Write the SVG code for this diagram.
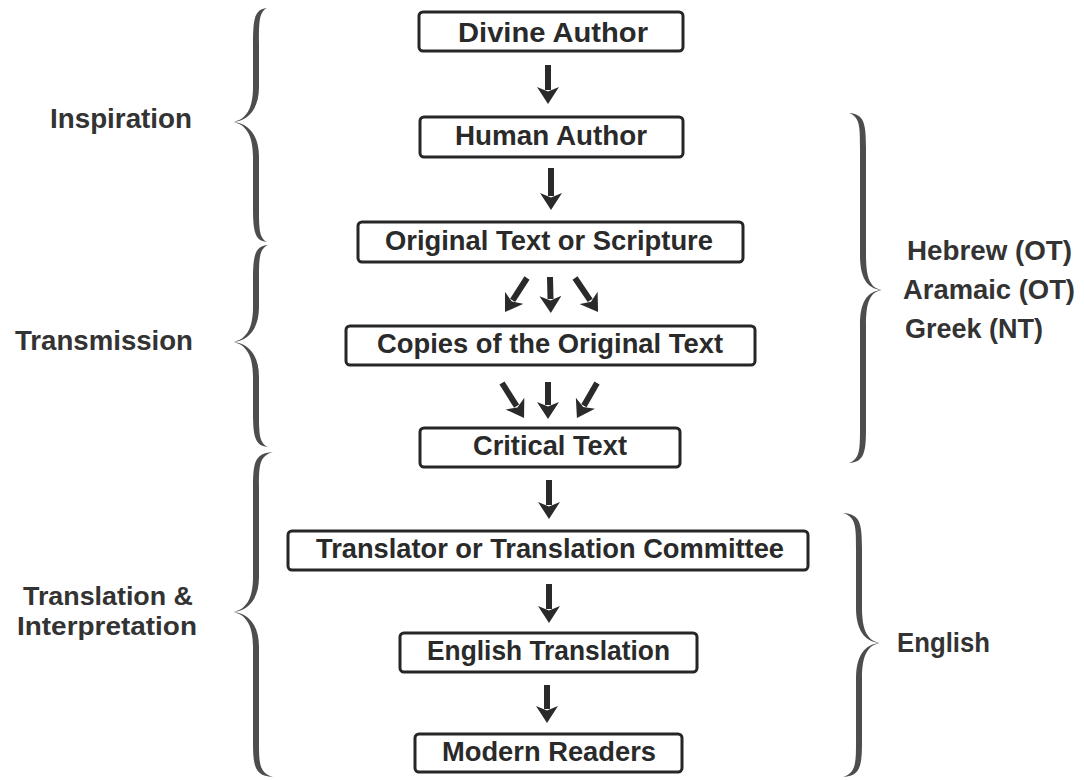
<svg xmlns="http://www.w3.org/2000/svg" width="1084" height="780" viewBox="0 0 1084 780">
<style>
.box{fill:#fff;stroke:#262626;stroke-width:3}
.bt{font-family:"Liberation Sans",Arial,sans-serif;font-weight:bold;font-size:27px;fill:#2a2a2a;text-anchor:middle}
.lab{font-family:"Liberation Sans",Arial,sans-serif;font-weight:bold;font-size:27px;fill:#333}
.lab2{font-family:"Liberation Sans",Arial,sans-serif;font-weight:bold;font-size:26px;fill:#333}
.arr{stroke:#2a2a2a;stroke-width:6;fill:none;marker-end:url(#head)}
.brace{fill:#4d4d4d}
</style>
<defs>
<marker id="head" viewBox="0 0 17 22" markerWidth="17" markerHeight="22" markerUnits="userSpaceOnUse" refX="3" refY="11" orient="auto">
<path d="M17,11 L0,0 L4.5,11 L0,22 Z" fill="#2a2a2a"/>
</marker>
</defs>
<rect width="1084" height="780" fill="#fff"/>

<g id="braces">
<path class="brace" d="M267,8 C255,9 253,18 253,43 L253,87 C253,110 245,120 233,122 C245,124 253,134 253,157 L253,207 C253,232 255,241 267,242 C259,238 259,228 259,207 L259,157 C259,136 249,123 233,122 C249,121 259,108 259,87 L259,43 C259,22 259,12 267,8 Z"/>
<path class="brace" d="M268,245 C255,246 253,255 253,280 L253,307 C253,330 245,340 233,342 C245,344 253,354 253,377 L253,412 C253,437 255,446 268,447 C259,443 259,433 259,412 L259,377 C259,356 249,343 233,342 C249,341 259,328 259,307 L259,280 C259,259 259,249 268,245 Z"/>
<path class="brace" d="M273,452 C255,453 253,462 253,487 L253,577 C253,600 245,610 233,612 C245,614 253,624 253,647 L253,742 C253,767 255,776 273,777 C259,773 259,763 259,742 L259,647 C259,626 249,613 233,612 C249,611 259,598 259,577 L259,487 C259,466 259,456 273,452 Z"/>
<path class="brace" d="M849,113 C864,114 866,123 866,148 L866,255 C866,278 870,288 882,290 C870,292 866,302 866,325 L866,428 C866,453 864,462 849,463 C860,459 860,449 860,428 L860,325 C860,304 866,291 882,290 C866,289 860,276 860,255 L860,148 C860,127 860,117 849,113 Z"/>
<path class="brace" d="M843,513 C860,514 862,523 862,548 L862,608 C862,631 868,641 880,643 C868,645 862,655 862,678 L862,742 C862,767 860,776 843,777 C856,773 856,763 856,742 L856,678 C856,657 864,644 880,643 C864,642 856,629 856,608 L856,548 C856,527 856,517 843,513 Z"/>
</g>

<g id="labels">
<text class="lab" x="50" y="128" textLength="142" lengthAdjust="spacingAndGlyphs">Inspiration</text>
<text class="lab" x="15" y="350" textLength="178" lengthAdjust="spacingAndGlyphs">Transmission</text>
<text class="lab2" x="23" y="605" textLength="170" lengthAdjust="spacingAndGlyphs">Translation &amp;</text>
<text class="lab2" x="17" y="635" textLength="180" lengthAdjust="spacingAndGlyphs">Interpretation</text>
<text class="lab" x="907" y="260" textLength="165" lengthAdjust="spacingAndGlyphs">Hebrew (OT)</text>
<text class="lab" x="903" y="299" textLength="172" lengthAdjust="spacingAndGlyphs">Aramaic (OT)</text>
<text class="lab" x="905" y="338" textLength="138" lengthAdjust="spacingAndGlyphs">Greek (NT)</text>
<text class="lab" x="897" y="652" textLength="93" lengthAdjust="spacingAndGlyphs">English</text>
</g>

<g id="connectors">
<line class="arr" x1="548" y1="65" x2="548" y2="90"/>
<line class="arr" x1="551" y1="168" x2="551" y2="196"/>
<line class="arr" x1="527" y1="278" x2="512.6" y2="300.3"/>
<line class="arr" x1="550" y1="277" x2="550.5" y2="299"/>
<line class="arr" x1="575" y1="278" x2="590.2" y2="300.4"/>
<line class="arr" x1="502" y1="383" x2="516.6" y2="406.2"/>
<line class="arr" x1="548" y1="382" x2="548" y2="405"/>
<line class="arr" x1="597" y1="383" x2="583.9" y2="405.8"/>
<line class="arr" x1="549" y1="480" x2="549" y2="505"/>
<line class="arr" x1="549" y1="584" x2="549" y2="609"/>
<line class="arr" x1="547" y1="685" x2="547" y2="709"/>
</g>

<g id="divine-author">
<rect class="box" x="419" y="12" width="264" height="39" rx="4"/>
<text class="bt" x="553" y="42" textLength="190" lengthAdjust="spacingAndGlyphs">Divine Author</text>
</g>
<g id="human-author">
<rect class="box" x="420" y="117" width="263" height="40" rx="4"/>
<text class="bt" x="551" y="145" textLength="192" lengthAdjust="spacingAndGlyphs">Human Author</text>
</g>
<g id="original-text">
<rect class="box" x="358" y="222" width="385" height="40" rx="4"/>
<text class="bt" x="549" y="250" textLength="328" lengthAdjust="spacingAndGlyphs">Original Text or Scripture</text>
</g>
<g id="copies">
<rect class="box" x="346" y="326" width="409" height="39" rx="4"/>
<text class="bt" x="550" y="353" textLength="346" lengthAdjust="spacingAndGlyphs">Copies of the Original Text</text>
</g>
<g id="critical-text">
<rect class="box" x="420" y="428" width="260" height="39" rx="4"/>
<text class="bt" x="550" y="455" textLength="154" lengthAdjust="spacingAndGlyphs">Critical Text</text>
</g>
<g id="translator">
<rect class="box" x="288" y="531" width="520" height="39" rx="4"/>
<text class="bt" x="550" y="558" textLength="468" lengthAdjust="spacingAndGlyphs">Translator or Translation Committee</text>
</g>
<g id="english-translation">
<rect class="box" x="400" y="633" width="297" height="39" rx="4"/>
<text class="bt" x="548.5" y="660" textLength="243" lengthAdjust="spacingAndGlyphs">English Translation</text>
</g>
<g id="modern-readers">
<rect class="box" x="415" y="734" width="267" height="38" rx="4"/>
<text class="bt" x="549" y="761" textLength="214" lengthAdjust="spacingAndGlyphs">Modern Readers</text>
</g>
</svg>
